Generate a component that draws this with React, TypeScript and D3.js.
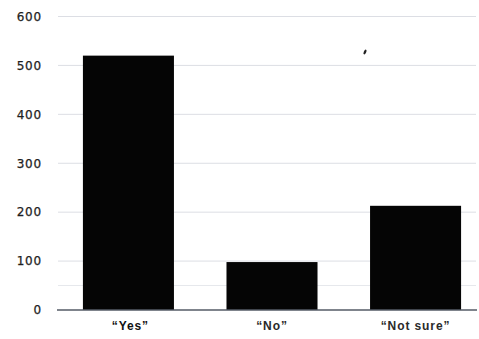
import React from "react";
import * as d3 from "d3";

const categories = ["\u201CYes\u201D", "\u201CNo\u201D", "\u201CNot sure\u201D"];
const values = [520, 98, 213];
const yTicks = [0, 100, 200, 300, 400, 500, 600];
const minorTicks = [50];

export default function App() {
  const W = 479, H = 339;
  const y = d3.scaleLinear().domain([0, 600]).range([310, 16.5]);
  const x = d3.scaleBand<string>().domain(categories).range([70, 474]).paddingInner(0.366).paddingOuter(0.09);
  return (
    <svg width={W} height={H} style={{ position: "absolute", left: 0, top: 0, background: "#fff" }}>
      <rect x={0} y={0} width={W} height={H} fill="#fff" />
      {yTicks.filter(t => t > 0).map(t => (
        <line key={t} x1={58} x2={476} y1={y(t)} y2={y(t)} stroke="#dcdee4" strokeWidth={1} />
      ))}
      {minorTicks.map(t => (
        <line key={"m" + t} x1={58} x2={476} y1={y(t)} y2={y(t)} stroke="#e6e8ec" strokeWidth={1} />
      ))}
      {categories.map((c, i) => (
        <rect key={c} x={x(c)} y={y(values[i])} width={x.bandwidth()} height={y(0) - y(values[i])} fill="#050505" />
      ))}
      <line x1={57} x2={477} y1={y(0)} y2={y(0)} stroke="#555b66" strokeWidth={1.3} />
      {yTicks.map(t => (
        <text key={t} x={42} y={y(t)} dy="0.36em" textAnchor="end" fontFamily="DejaVu Sans" fontSize={12} letterSpacing={0.8} fill="#1e1e1e" stroke="#1e1e1e" strokeWidth={0.25}>{t}</text>
      ))}
      {categories.map((c, i) => (
        <text key={c} x={(x(c) as number) + x.bandwidth() / 2 + (i === 0 ? 2 : 0)} y={330} textAnchor="middle" fontFamily="Liberation Sans" fontSize={12} letterSpacing={0.9} fontWeight="bold" fill={i === 0 ? "#111" : "#2a2a2a"}>{c}</text>
      ))}
      <ellipse cx={365} cy={52} rx={1.2} ry={2.6} transform="rotate(25 365 52)" fill="#222" />
    </svg>
  );
}
